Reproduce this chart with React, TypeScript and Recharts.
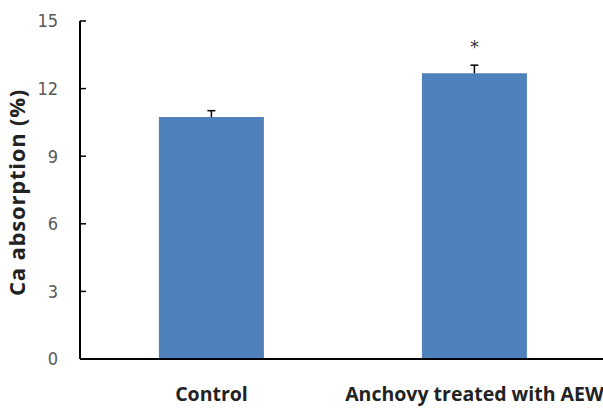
import React from "react";
import { BarChart, Bar, XAxis, YAxis, LabelList } from "recharts";

const groups = ["Control", "Anchovy treated with AEW"];
const absorption = [10.74, 12.68];
const errUp = [0.28, 0.36];
const marks = ["", "*"];
const yTicks = [0, 3, 6, 9, 12, 15];

const data = groups.map((name, i) => ({
  name,
  value: absorption[i],
  err: errUp[i],
  sig: marks[i],
}));

// upper-only error bar, drawn on top of the stacked bar
const ErrorCap = (props: any) => {
  const { x, y, width, height } = props;
  const cx = x + width / 2;
  return (
    <g stroke="#000" strokeWidth={1.5}>
      <line x1={cx} y1={y} x2={cx} y2={y + height} />
      <line x1={cx - 4} y1={y} x2={cx + 4} y2={y} />
    </g>
  );
};

const App: React.FC = () => {
  return (
    <div style={{ position: "absolute", left: 0, top: 0, width: 603, height: 412, background: "#fff" }}>
      <BarChart
        width={603}
        height={412}
        data={data}
        margin={{ top: 21, right: -3, left: 0, bottom: 0 }}
        barCategoryGap="30%"
      >
        <XAxis
          dataKey="name"
          tickLine={false}
          tickSize={0}
          tickMargin={28}
          height={53}
          axisLine={{ stroke: "#000", strokeWidth: 2 }}
          tick={{ fill: "#222", fontSize: 19.5, fontWeight: 700, fontFamily: "Open Sans, sans-serif" }}
          interval={0}
        />
        <YAxis
          domain={[0, 15]}
          ticks={yTicks}
          width={80}
          tickSize={-6}
          tickMargin={28}
          axisLine={{ stroke: "#000", strokeWidth: 2 }}
          tickLine={{ stroke: "#000", strokeWidth: 1.5 }}
          tick={{ fill: "#595959", fontSize: 18, fontFamily: "DejaVu Sans Condensed, sans-serif" }}
          label={{
            value: "Ca absorption (%)",
            angle: -90,
            position: "insideLeft",
            dx: 12,
            dy: 106,
            style: { fill: "#222", fontSize: 22, fontWeight: 700, letterSpacing: 0.8, fontFamily: "Open Sans, sans-serif" },
          }}
        />
        <Bar dataKey="value" stackId="a" fill="#4f81bd" isAnimationActive={false} />
        <Bar dataKey="err" stackId="a" shape={ErrorCap} isAnimationActive={false}>
          <LabelList dataKey="sig" position="top" offset={12} fill="#333" fontSize={18} fontFamily="DejaVu Sans, sans-serif" />
        </Bar>
      </BarChart>
    </div>
  );
};

export default App;
